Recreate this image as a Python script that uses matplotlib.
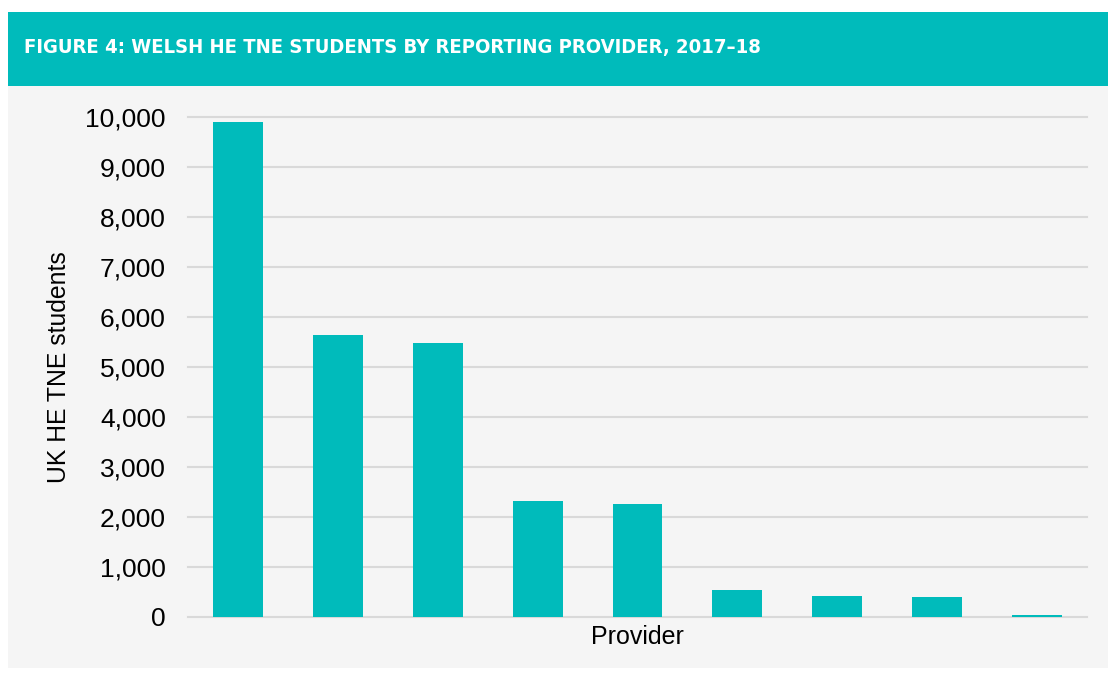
import matplotlib.pyplot as plt
from matplotlib.patches import Rectangle
from matplotlib.ticker import FuncFormatter

providers = ["P1", "P2", "P3", "P4", "P5", "P6", "P7", "P8", "P9"]
students = [9900, 5640, 5480, 2320, 2260, 540, 430, 410, 40]
yticks = list(range(0, 10001, 1000))

TEAL = "#00BBBB"
fig = plt.figure(figsize=(11.08, 6.75), dpi=100)
W, H = 1108, 675
fig.patch.set_facecolor("white")
# panel and banner
fig.patches.append(Rectangle((8 / W, 1 - 668 / H), 1100 / W, (668 - 86) / H,
                             transform=fig.transFigure, facecolor="#F5F5F5", edgecolor="none", zorder=-10))
fig.patches.append(Rectangle((8 / W, 1 - 86 / H), 1100 / W, (86 - 12) / H,
                             transform=fig.transFigure, facecolor=TEAL, edgecolor="none", zorder=-10))

fig.text(24 / W, 1 - 48 / H, "FIGURE 4: WELSH HE TNE STUDENTS BY REPORTING PROVIDER, 2017\u201318",
         color="white", fontsize=14.5, fontweight="bold", fontstretch="condensed",
         family=["DejaVu Sans"], va="center", ha="left", zorder=5)

ax = fig.add_axes([188 / W, 1 - 617 / H, 899 / W, 500 / H], zorder=2)
ax.set_facecolor("none")
x = list(range(len(providers)))
ax.bar(x, students, width=0.5, color=TEAL, zorder=3)
ax.set_xlim(-0.5, len(providers) - 0.5)
ax.set_ylim(0, 10000)
ax.set_yticks(yticks)
ax.yaxis.set_major_formatter(FuncFormatter(lambda v, p: f"{int(v):,}"))
ax.set_xticks([])
ax.grid(axis="y", color="#D9D9D9", linewidth=1.5, zorder=0)
for ln in ax.get_ygridlines():
    ln.set_clip_on(False)
for s in ax.spines.values():
    s.set_visible(False)
ax.tick_params(axis="y", length=0, pad=16, labelsize=19, labelcolor="black")
for t in ax.get_yticklabels():
    t.set_family("Liberation Sans")
ax.set_ylabel("UK HE TNE students", fontsize=17.8, family="Liberation Sans")
ax.set_xlabel("Provider", fontsize=18, family="Liberation Sans", labelpad=6)
ax.yaxis.set_label_coords(-117 / 899, 0.5)

fig.savefig("out.png", dpi=100, facecolor="white")
